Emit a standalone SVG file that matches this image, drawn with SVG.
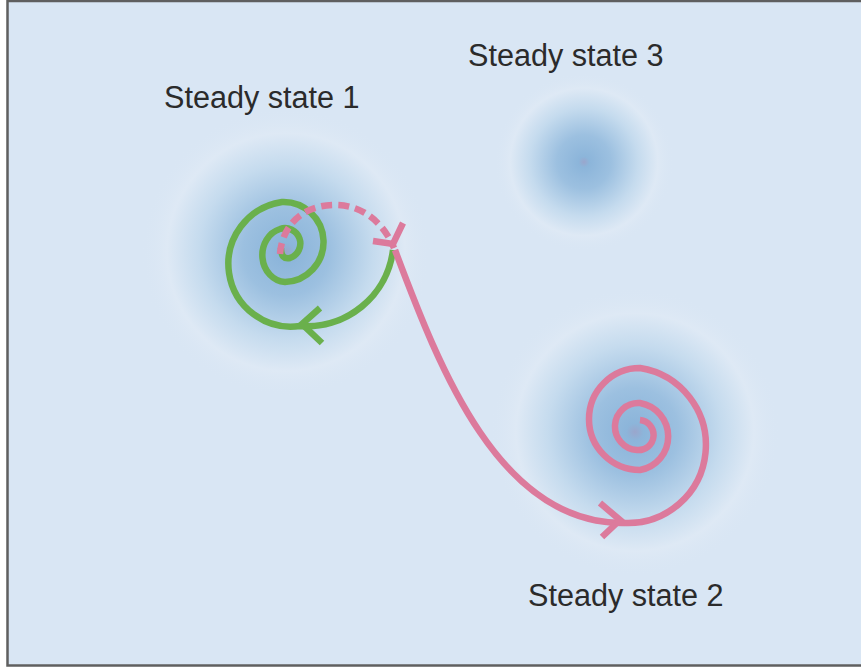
<svg xmlns="http://www.w3.org/2000/svg" width="861" height="667" viewBox="0 0 861 667">
<style>
.lbl{font-family:"Liberation Sans",Arial,Helvetica,sans-serif;font-size:30.6px;fill:#2b2b2b}
.pink{fill:none;stroke:#dc7a9c;stroke-width:6.5;stroke-linecap:butt;stroke-linejoin:miter}
.green{fill:none;stroke:#6ab04c;stroke-width:6.5;stroke-linecap:butt;stroke-linejoin:miter}
</style>
<defs>
<radialGradient id="basin">
<stop offset="0" stop-color="#9aa6cc"/>
<stop offset="0.06" stop-color="#8cb5da"/>
<stop offset="0.3" stop-color="#9cc0e0"/>
<stop offset="0.6" stop-color="#c5dbee"/>
<stop offset="0.82" stop-color="#dee9f5"/>
<stop offset="1" stop-color="#d9e6f4" stop-opacity="0"/>
</radialGradient>
</defs>
<rect x="0" y="0" width="861" height="667" fill="#ffffff"/>
<rect x="7.5" y="1" width="860" height="664.5" fill="#d9e6f4" stroke="#5f5f5f" stroke-width="2.5"/>
<g id="basin1"><circle cx="286" cy="252" r="145" fill="url(#basin)"/></g>
<g id="basin3"><circle cx="584" cy="162" r="90" fill="url(#basin)"/></g>
<g id="basin2"><circle cx="635" cy="432" r="145" fill="url(#basin)"/></g>
<g id="label1"><text class="lbl" x="164" y="108">Steady state 1</text></g>
<g id="label3"><text class="lbl" x="468" y="66">Steady state 3</text></g>
<g id="label2"><text class="lbl" x="528" y="606">Steady state 2</text></g>
<g id="connectors">
<path class="green" d="M393,250 A87,87 0 0 1 300,326 A62,62 0 0 1 282,202 A40,40 0 0 1 285,282 A24,27 0 0 1 280,229 A15,15 0 0 1 290,258 Q281,260 281,248"/>
<path class="green" d="M320,308 L302,324 L322,343"/>
<path class="pink" stroke-dasharray="11,6" d="M280,254 C282,228 300,205 335,205 C364,205 384,224 394,248"/>
<path class="pink" d="M373,241 L393,244 L403,223"/>
<path class="pink" d="M395,250 C440,370 500,525 625,523 A78,78 0 0 0 640,368 A51,51 0 0 0 640,470 A34,34 0 0 0 640,403 A23,23 0 0 0 637,450 A15,15 0 0 0 640,420"/>
<path class="pink" d="M600,503 L620,520 L602,537"/>
</g>
</svg>
